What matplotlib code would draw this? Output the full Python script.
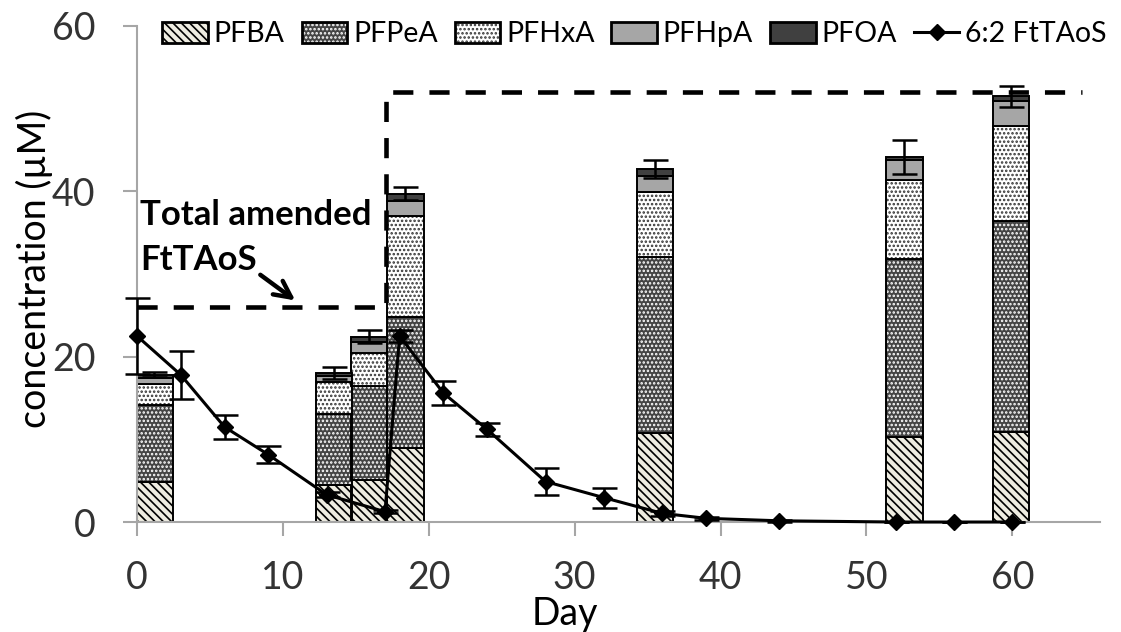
import matplotlib
matplotlib.use("Agg")
import matplotlib.pyplot as plt
import numpy as np
from matplotlib.patches import Patch
from matplotlib.lines import Line2D
from matplotlib.legend_handler import HandlerTuple

plt.rcParams['font.family'] = ['Lato', 'DejaVu Sans']
plt.rcParams['hatch.linewidth'] = 1.2

# stacked bars (uM), one bar per sampling time
bar_days = [1.2, 13.5, 15.9, 18.4, 35.5, 52.6, 59.9]
pfba = [4.8, 4.5, 5.1, 9.0, 10.8, 10.3, 10.85]
pfpea = [9.4, 8.6, 11.35, 15.85, 21.2, 21.5, 25.55]
pfhxa = [2.45, 3.8, 4.05, 12.15, 7.95, 9.55, 11.5]
pfhpa = [0.75, 0.75, 1.3, 1.85, 1.85, 2.45, 3.05]
pfoa = [0.4, 0.4, 0.6, 0.85, 0.9, 0.3, 0.55]
total_err = [0.3, 0.7, 0.8, 0.8, 1.1, 2.05, 1.25]

# 6:2 FtTAoS time course
ft_days = [0, 3, 6, 9, 13, 17, 18, 21, 24, 28, 32, 36, 39, 44, 52, 56, 60]
ft_conc = [22.5, 17.8, 11.5, 8.15, 3.3, 1.25, 22.5, 15.6, 11.2, 4.9, 2.95, 1.05,
           0.45, 0.15, 0.0, 0.0, 0.0]
ft_err = [4.6, 2.9, 1.4, 1.0, 0.3, 0.2, 0.7, 1.5, 0.8, 1.65, 1.2, 0.3,
          0.15, 0.1, 0.0, 0.0, 0.0]

# total amended FtTAoS (dashed step)
amend_days = [0, 17.1, 17.1, 64.8]
amend_conc = [26.0, 26.0, 52.0, 52.0]

labels = ['PFBA', 'PFPeA', 'PFHxA', 'PFHpA', 'PFOA']
series = [pfba, pfpea, pfhxa, pfhpa, pfoa]
# face colour, hatch colour, hatch
styles = [('#EEECE1', 'black', '\\\\\\\\'),
          ('#444444', 'white', '....'),
          ('white', '#333333', '....'),
          ('#A6A6A6', '#A6A6A6', None),
          ('#404040', '#404040', None)]

fig = plt.figure(figsize=(11.21, 6.32), dpi=100)
ax = fig.add_axes([0.1222, 0.174, 0.859, 0.785])

width = 2.5
bottom = np.zeros(len(bar_days))
handles = []
for vals, (fc, hc, h), lab in zip(series, styles, labels):
    ax.bar(bar_days, vals, width, bottom=bottom, color=fc, edgecolor=hc,
           hatch=h, linewidth=0, zorder=2)
    ax.bar(bar_days, vals, width, bottom=bottom, fill=False,
           edgecolor='black', linewidth=1.4, zorder=2)
    bottom = bottom + np.array(vals)
    handles.append((Patch(facecolor=fc, edgecolor=hc, hatch=h, linewidth=0),
                    Patch(fill=False, edgecolor='black', linewidth=2)))

ax.errorbar(bar_days, bottom, yerr=total_err, fmt='none', ecolor='black',
            elinewidth=1.8, capsize=9, capthick=1.8, zorder=3)

ax.plot(amend_days, amend_conc, color='black', lw=3.3, dashes=(4.4, 3.5),
        zorder=4)

ax.errorbar(ft_days, ft_conc, yerr=ft_err, color='black', lw=2.2,
            marker='D', ms=8, elinewidth=1.8, capsize=9, capthick=1.8,
            zorder=5, clip_on=False)
handles.append(Line2D([], [], color='black', lw=2.2, marker='D', ms=8))

ax.text(0.2, 35.9, 'Total amended', fontsize=25, fontweight='bold')
ax.text(0.2, 30.5, 'FtTAoS', fontsize=25, fontweight='bold')
ax.annotate('', xy=(11.0, 26.6), xytext=(8.3, 30.1),
            arrowprops=dict(arrowstyle='->', lw=3.2, color='black',
                            mutation_scale=30))

ax.set_xlim(0, 66)
ax.set_ylim(0, 60)
ax.set_xticks(range(0, 61, 10))
ax.set_yticks([0, 20, 40, 60])
for s in ['top', 'right']:
    ax.spines[s].set_visible(False)
for s in ['left', 'bottom']:
    ax.spines[s].set_color('#A6A6A6')
    ax.spines[s].set_linewidth(1.5)
ax.tick_params(axis='both', direction='out', length=10, width=1.5,
               color='#A6A6A6', labelsize=27, labelcolor='#333333')
ax.tick_params(axis='x', pad=17)
ax.tick_params(axis='y', pad=20)

fig.text(0.031, 0.575, 'concentration (\u00b5M)', rotation=90, fontsize=27,
         ha='center', va='center')
fig.text(0.504, 0.011, 'Day', fontsize=27, ha='center', va='baseline')

fig.legend(handles, labels + ['6:2 FtTAoS'], loc='center',
           bbox_to_anchor=(0.566, 0.946), ncol=6, frameon=False,
           fontsize=20.5, handlelength=1.6, handleheight=0.75,
           handletextpad=0.2, columnspacing=0.6, borderpad=0,
           handler_map={tuple: HandlerTuple(ndivide=1, pad=0)})

fig.savefig('out.png', dpi=100)
